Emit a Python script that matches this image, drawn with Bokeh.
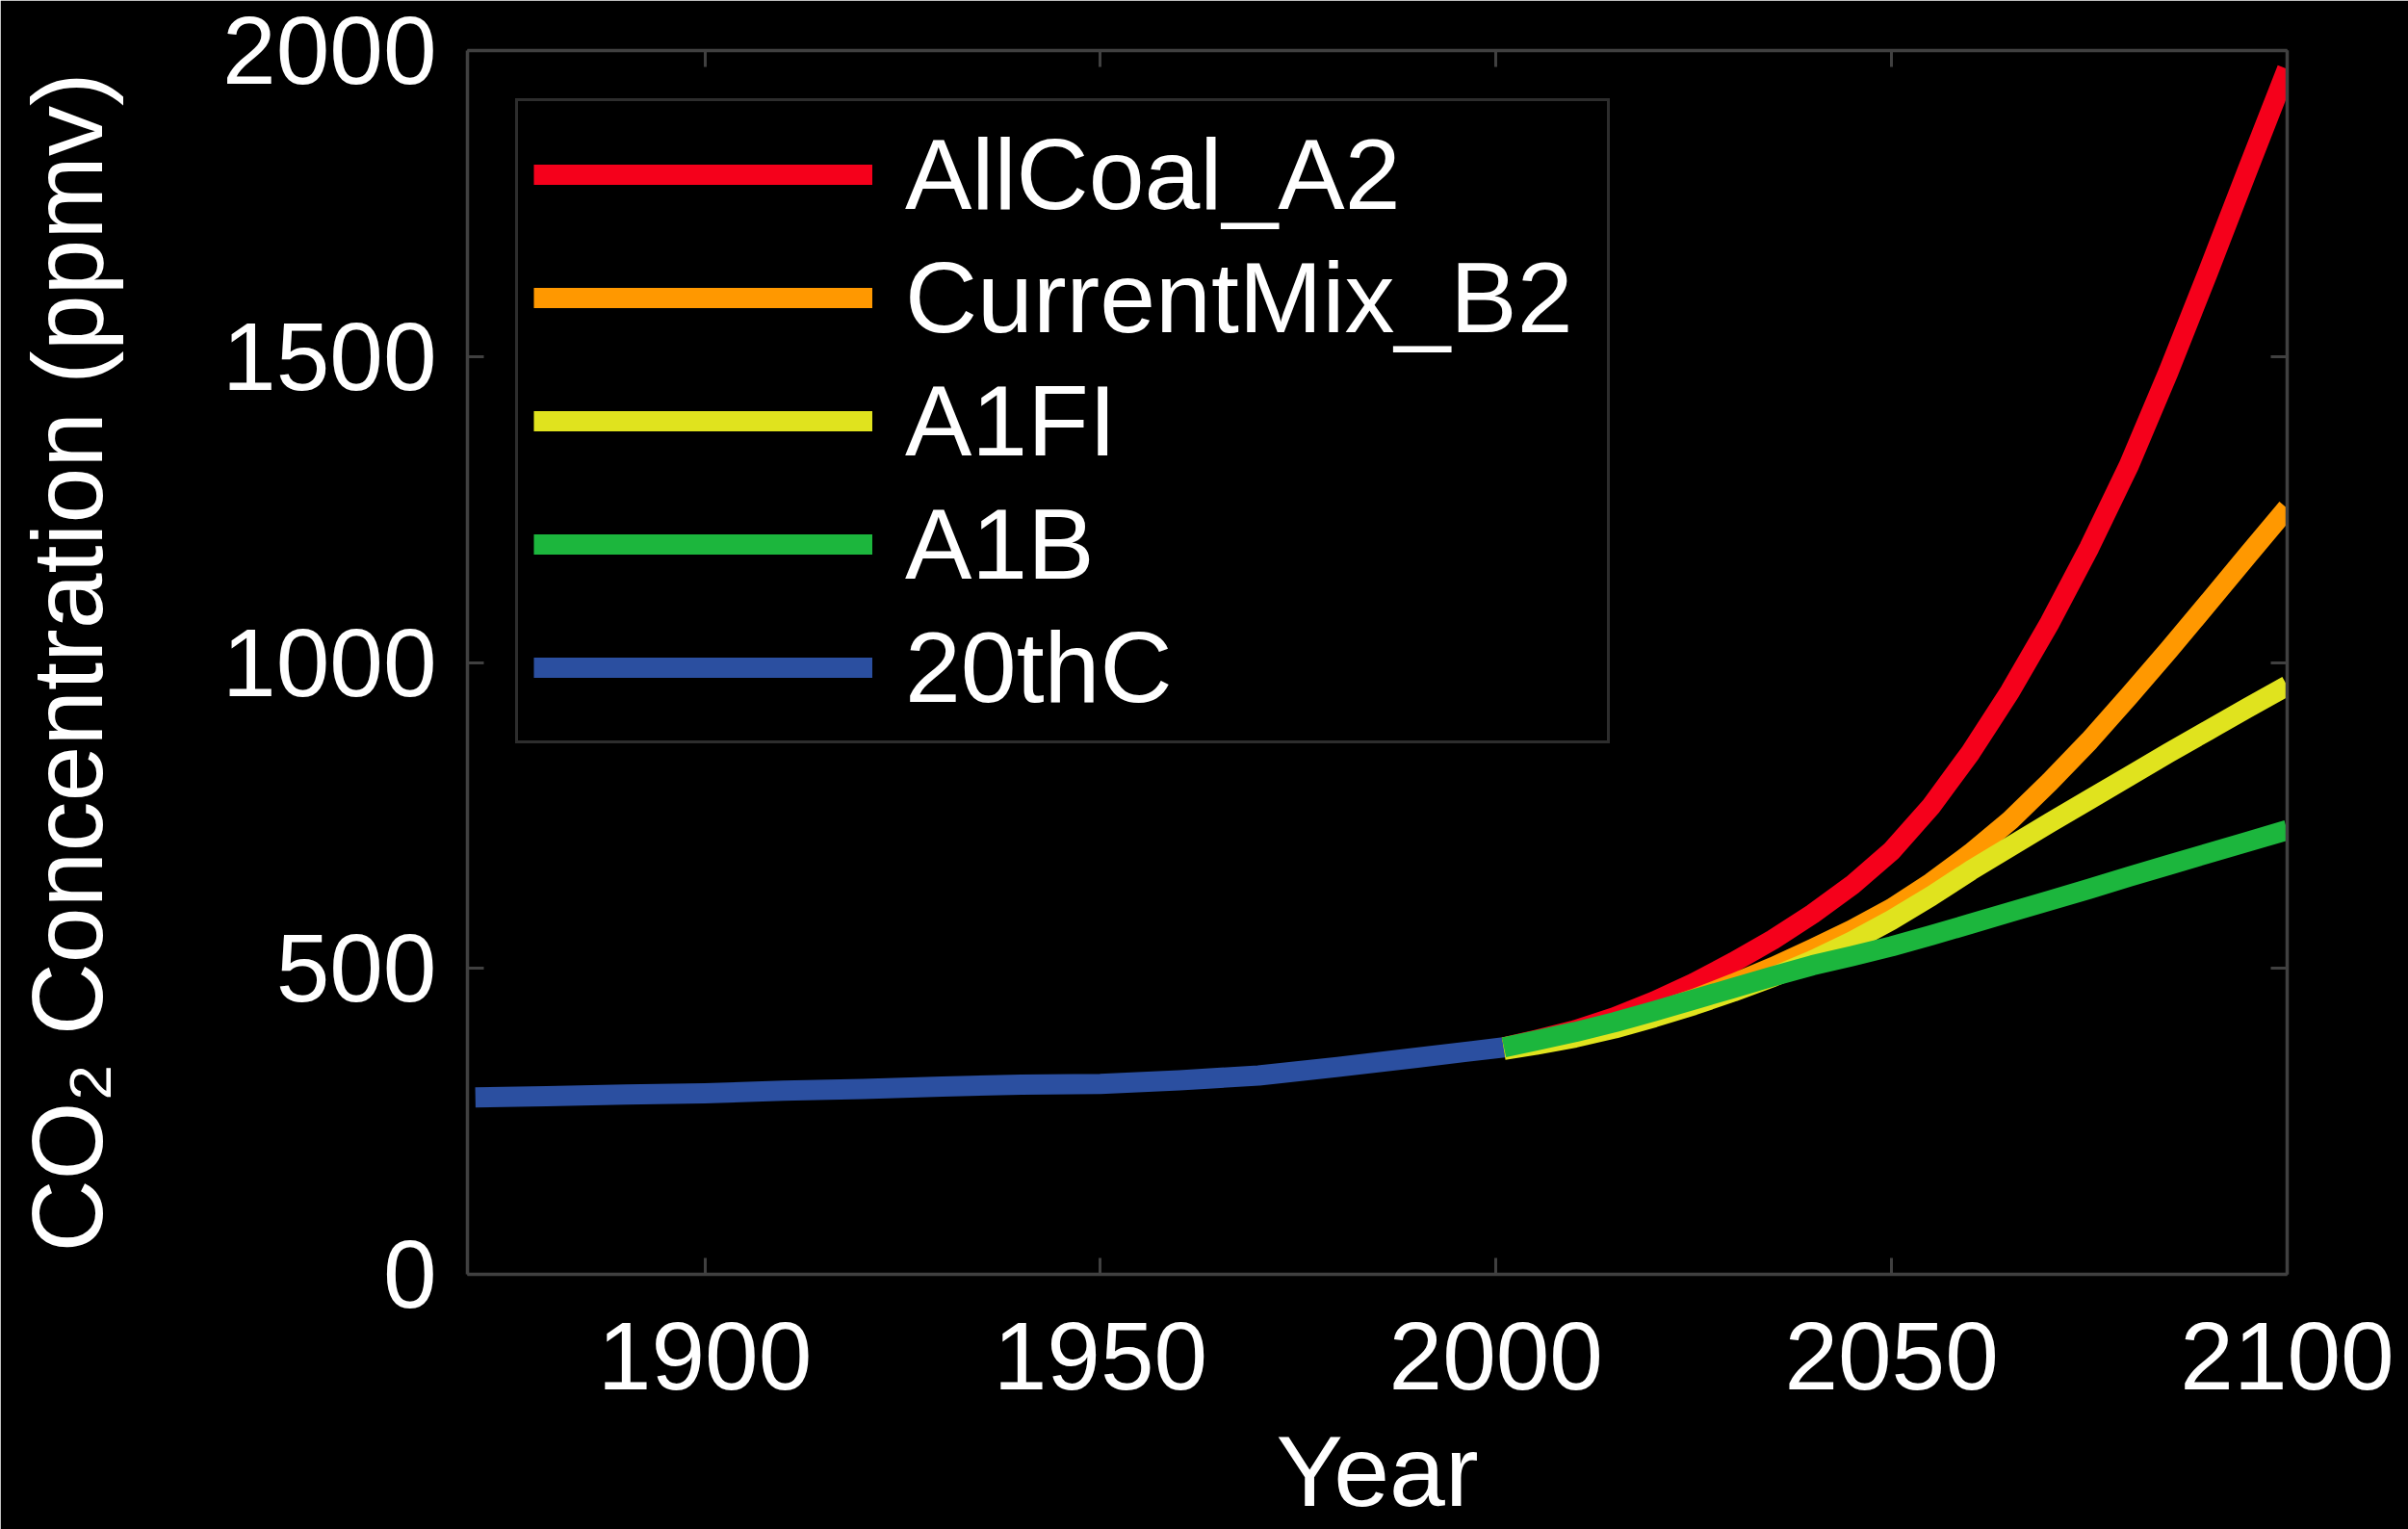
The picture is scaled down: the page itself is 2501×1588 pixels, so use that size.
from bokeh.plotting import figure
from bokeh.models import Range1d, LinearAxis, FixedTicker, Legend, LegendItem
from bokeh.embed import file_html
from bokeh.resources import INLINE

# ---- data ----
hist_years = [1871, 1880, 1890, 1900, 1910, 1920, 1930, 1940, 1950, 1960, 1970, 1980, 1990, 2001]
hist_co2 = [289, 291, 294, 296, 300, 303, 307, 310, 311, 317, 325, 339, 354, 371]

future_years = [2001, 2005, 2010, 2015, 2020, 2025, 2030, 2035, 2040, 2045, 2050,
                2055, 2060, 2065, 2070, 2075, 2080, 2085, 2090, 2095, 2100]
allcoal_a2 = [371, 383, 399, 420, 446, 476, 510, 547, 589, 636, 692,
              765, 853, 953, 1065, 1188, 1322, 1475, 1638, 1805, 1970]
currentmix_b2 = [371, 380, 393, 410, 428, 450, 475, 502, 532, 563, 598,
                 640, 688, 742, 805, 872, 945, 1020, 1097, 1175, 1252]
a1fi = [367, 375, 387, 402, 420, 440, 462, 486, 513, 544, 579,
        618, 660, 699, 738, 776, 814, 852, 889, 926, 962]
a1b = [371, 382, 396, 412, 430, 449, 468, 487, 505, 520, 536,
       554, 573, 592, 611, 630, 650, 669, 688, 707, 726]

x_ticks = [1900, 1950, 2000, 2050, 2100]
y_ticks = [0, 500, 1000, 1500, 2000]

series_names = ["AllCoal_A2", "CurrentMix_B2", "A1FI", "A1B", "20thC"]
series_colors = ["#F5001B", "#FF9800", "#E0E31E", "#1CB63D", "#2B4FA0"]

x_title = "Year"
y_title = "CO\u2082 Concentration (ppmv)"

FONT = "Liberation Sans"
AXIS_GREY = "#404040"
LW = 21

p = figure(
    width=2501, height=1588,
    output_backend="svg", toolbar_location=None,
    x_range=Range1d(1870, 2100), y_range=Range1d(0, 2000),
    min_border_left=485, min_border_right=126,
    min_border_top=52, min_border_bottom=263,
    background_fill_color="black", border_fill_color="black",
    outline_line_color=None,
)
p.grid.visible = False

# ---- lines (drawn: 20thC, AllCoal, CurrentMix, A1FI, A1B) ----
common = dict(line_width=LW, line_cap="butt", line_join="round")
r_hist = p.line(hist_years, hist_co2, line_color=series_colors[4], **common)
r_a2 = p.line(future_years, allcoal_a2, line_color=series_colors[0], **common)
r_b2 = p.line(future_years, currentmix_b2, line_color=series_colors[1], **common)
r_fi = p.line(future_years, a1fi, line_color=series_colors[2], **common)
r_1b = p.line(future_years, a1b, line_color=series_colors[3], **common)


def style_axis(ax, ticks, labels=True):
    ax.ticker = FixedTicker(ticks=ticks)
    ax.axis_line_color = AXIS_GREY
    ax.axis_line_width = 3.5
    ax.major_tick_line_color = AXIS_GREY
    ax.major_tick_line_width = 3
    ax.major_tick_in = 17
    ax.major_tick_out = 0
    ax.minor_tick_line_color = None
    if labels:
        ax.major_label_text_color = "white"
        ax.major_label_text_font = FONT
        ax.major_label_text_font_size = "100px"
        ax.axis_label_text_color = "white"
        ax.axis_label_text_font = FONT
        ax.axis_label_text_font_size = "104px"
        ax.axis_label_text_font_style = "normal"
    else:
        ax.major_label_text_font_size = "0px"
        ax.major_label_text_color = None
        ax.major_label_standoff = 0


xb = p.xaxis[0]
yl = p.yaxis[0]
style_axis(xb, x_ticks)
style_axis(yl, y_ticks)
xb.axis_label = x_title
xb.major_label_standoff = 50
xb.axis_label_standoff = 24
yl.axis_label = y_title
yl.major_label_standoff = 32
yl.axis_label_standoff = 100

xt = LinearAxis()
style_axis(xt, x_ticks, labels=False)
p.add_layout(xt, "above")
yr = LinearAxis()
style_axis(yr, y_ticks, labels=False)
p.add_layout(yr, "right")

legend = Legend(
    items=[
        LegendItem(label=series_names[0], renderers=[r_a2]),
        LegendItem(label=series_names[1], renderers=[r_b2]),
        LegendItem(label=series_names[2], renderers=[r_fi]),
        LegendItem(label=series_names[3], renderers=[r_1b]),
        LegendItem(label=series_names[4], renderers=[r_hist]),
    ],
    location="top_left",
    margin=50,
    padding=16,
    spacing=8,
    glyph_width=352,
    glyph_height=120,
    label_height=120,
    label_width=713,
    label_standoff=34,
    label_text_font=FONT,
    label_text_font_size="104px",
    label_text_color="white",
    border_line_color="#5a5a5a",
    border_line_width=3,
    background_fill_color="black",
    background_fill_alpha=1.0,
)
p.add_layout(legend)

open("out.html", "w").write(file_html(p, INLINE))
